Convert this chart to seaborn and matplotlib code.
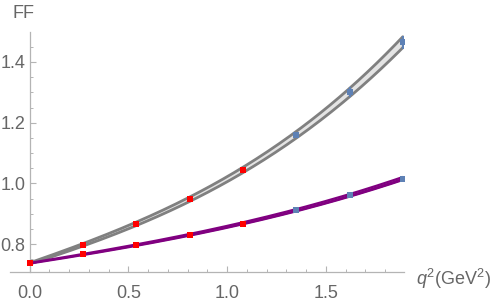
import numpy as np
import pandas as pd
import seaborn as sns
import matplotlib.pyplot as plt

# q^2 points (GeV^2)
q2 = [0.0, 0.27, 0.54, 0.81, 1.08, 1.35, 1.62, 1.89]
# upper form factor (red = first five, blue = last three with errors)
ff_upper = [0.737, 0.797, 0.867, 0.949, 1.044, 1.159, 1.300, 1.465]
err_upper = [0.0, 0.0, 0.0, 0.0, 0.0, 0.009, 0.016, 0.021]
band_upper = [0.002, 0.004, 0.006, 0.007, 0.009, 0.011, 0.014, 0.018]
# lower form factor
ff_lower = [0.737, 0.766, 0.797, 0.831, 0.868, 0.912, 0.961, 1.016]
err_lower = [0.0, 0.0, 0.0, 0.0, 0.0, 0.003, 0.003, 0.004]
band_lower = [0.001, 0.002, 0.002, 0.003, 0.003, 0.004, 0.004, 0.005]
n_red = 5

sns.set_theme(style='white')
plt.rcParams['font.family'] = ['Liberation Sans', 'DejaVu Sans']
plt.rcParams['mathtext.fontset'] = 'custom'
plt.rcParams['mathtext.rm'] = 'Liberation Sans'
plt.rcParams['mathtext.it'] = 'Liberation Sans:italic'

df = pd.DataFrame({'q2': q2, 'up': ff_upper, 'eu': err_upper, 'bu': band_upper,
                   'lo': ff_lower, 'el': err_lower, 'bl': band_lower})

# smooth fit curves through the read values
xs = np.linspace(0, max(q2), 200)
def fit(y):
    return np.polyval(np.polyfit(df.q2, y, 3), xs)

up_c, lo_c = fit(df.up), fit(df.lo)
up_w, lo_w = fit(df.bu), fit(df.bl)

fig = plt.figure(figsize=(5, 3.04), dpi=100)
ax = fig.add_axes([0.02, 0.105, 0.788, 0.79])

ax.fill_between(xs, up_c - up_w, up_c + up_w, color='#e4e4e4', lw=0)
sns.lineplot(x=xs, y=up_c + up_w, color='#808080', lw=2, ax=ax)
sns.lineplot(x=xs, y=up_c - up_w, color='#808080', lw=2, ax=ax)

ax.fill_between(xs, lo_c - lo_w, lo_c + lo_w, color='#800080', lw=0)
sns.lineplot(x=xs, y=lo_c + lo_w, color='#800080', lw=1.6, ax=ax)
sns.lineplot(x=xs, y=lo_c - lo_w, color='#800080', lw=1.6, ax=ax)

red = df.iloc[:n_red]
blue = df.iloc[n_red:]
for col, ecol in [('up', 'eu'), ('lo', 'el')]:
    ax.errorbar(blue.q2, blue[col], yerr=blue[ecol], fmt='s', color='#5e81b5',
                ms=4.2, mew=0, elinewidth=1.6, capsize=3, capthick=1.6, zorder=5)
    sns.scatterplot(x=red.q2, y=red[col], marker='s', color='#ff0000', s=24,
                    linewidth=0, ax=ax, zorder=6)

ax.set_xlim(-0.1, 1.896)
ax.set_ylim(0.708, 1.499)
ax.set_xticks([0.0, 0.5, 1.0, 1.5])
ax.set_xticks(np.arange(0, 1.9, 0.1), minor=True)
ax.set_yticks([0.8, 1.0, 1.2, 1.4])
ax.set_yticks(np.arange(0.75, 1.5, 0.05), minor=True)
ax.xaxis.set_major_formatter(plt.FormatStrFormatter('%.1f'))
ax.yaxis.set_major_formatter(plt.FormatStrFormatter('%.1f'))

for s in ['top', 'right']:
    ax.spines[s].set_visible(False)
ax.spines['left'].set_position(('data', 0))
for s in ['left', 'bottom']:
    ax.spines[s].set_color('#b4b4b4')
    ax.spines[s].set_linewidth(0.9)

ax.tick_params(axis='both', which='major', direction='in', length=4, width=0.8,
               color='#b4b4b4', labelsize=13, labelcolor='#666666',
               left=True, bottom=True)
ax.tick_params(axis='both', which='minor', direction='in', length=2.5, width=0.7,
               color='#b4b4b4', left=True, bottom=True)
ax.tick_params(axis='x', which='major', pad=9)
ax.tick_params(axis='y', which='major', pad=3)
ax.set_xlabel('')
ax.set_ylabel('')

fig.text(0.048, 0.955, 'FF', fontsize=13, color='#666666', ha='center', va='center')
fig.text(0.832, 0.083, r'$q^2$(GeV$^2$)', fontsize=13, color='#666666',
         ha='left', va='center')

plt.savefig('out.png', dpi=100)
plt.close()
